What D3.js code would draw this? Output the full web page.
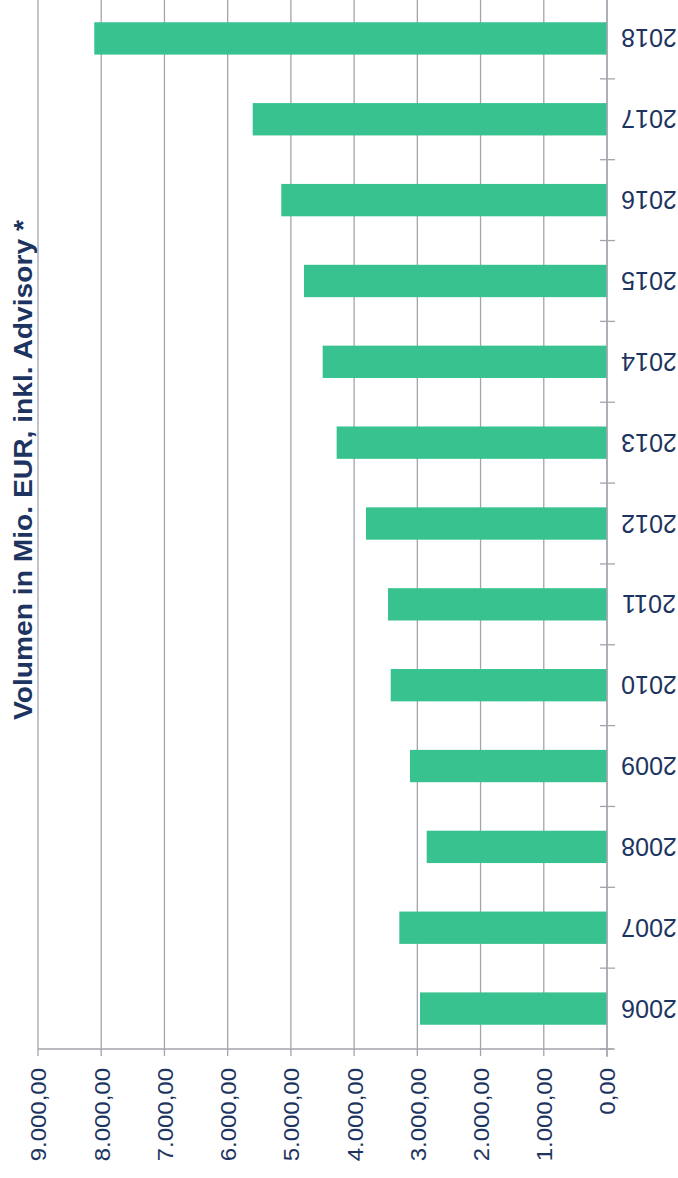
<!DOCTYPE html>
<html><head><meta charset="utf-8">
<script src="https://cdn.jsdelivr.net/npm/d3@7"></script>
<style>html,body{margin:0;padding:0;background:#fff;}svg{display:block;}</style>
</head><body>
<svg id="c" width="678" height="1178"></svg>
<script>
const years = ["2006","2007","2008","2009","2010","2011","2012","2013","2014","2015","2016","2017","2018"];
const volumes = [2958,3285,2852,3116,3421,3464,3812,4276,4497,4793,5152,5604,8110];
const valueTicks = [0,1000,2000,3000,4000,5000,6000,7000,8000,9000];
const axisTitle = "Volumen in Mio. EUR, inkl. Advisory *";

const svg = d3.select("#c");
const gridColor = "#a3a5ad";
const textColor = "#1d3461";
const barColor = "#38c290";

const x = d3.scaleLinear().domain([0,9000]).range([607,38]);
const y = d3.scaleBand().domain(years).range([1049,-2]).padding(0);
const loc = d3.formatLocale({decimal:",",thousands:".",grouping:[3],currency:["","€"]});
const fmt = loc.format(",.2f");

// grid lines + value ticks
const g = svg.append("g");
g.selectAll("line.grid").data(valueTicks).join("line")
  .attr("x1",d=>x(d)).attr("x2",d=>x(d))
  .attr("y1",0).attr("y2",1056)
  .attr("stroke",gridColor).attr("stroke-width",1.3);
// value axis line
g.append("line").attr("x1",x(9000)).attr("x2",613).attr("y1",1049).attr("y2",1049)
  .attr("stroke",gridColor).attr("stroke-width",1.3);

// bars
svg.append("g").selectAll("rect").data(years).join("rect")
  .attr("x",(d,i)=>x(volumes[i]))
  .attr("width",(d,i)=>x(0)-x(volumes[i]))
  .attr("y",d=>y(d)+y.bandwidth()*0.3)
  .attr("height",y.bandwidth()*0.4)
  .attr("fill",barColor);

// category axis line
svg.append("line").attr("x1",607).attr("x2",607).attr("y1",0).attr("y2",1057)
  .attr("stroke",gridColor).attr("stroke-width",1.3);
// category boundary ticks
const bounds = years.map(d=>y(d)+y.bandwidth());
svg.append("g").selectAll("line").data(bounds).join("line")
  .attr("x1",600).attr("x2",615).attr("y1",d=>d).attr("y2",d=>d)
  .attr("stroke",gridColor).attr("stroke-width",1.3);

// year labels (rotated 180)
svg.append("g").selectAll("text").data(years).join("text")
  .attr("transform",d=>`translate(649,${y(d)+y.bandwidth()/2}) rotate(180)`)
  .attr("text-anchor","middle").attr("dy","0.36em")
  .attr("font-family","Liberation Sans, Arial, sans-serif")
  .attr("font-size",25).attr("fill",textColor)
  .text(d=>d);

// value tick labels (rotated -90)
svg.append("g").selectAll("text").data(valueTicks).join("text")
  .attr("transform",d=>`translate(${x(d)+0.5},1068) rotate(-90)`)
  .attr("text-anchor","end").attr("dy","0.36em")
  .attr("font-family","Liberation Sans, Arial, sans-serif")
  .attr("font-size",22).attr("fill",textColor)
  .each(function(d){
    const t = d3.select(this).text(fmt(d));
    const len = this.getComputedTextLength();
    t.attr("textLength",len*1.09).attr("lengthAdjust","spacingAndGlyphs");
  });

// axis title
svg.append("text")
  .attr("transform","translate(23,470) rotate(-90)")
  .attr("text-anchor","middle").attr("dy","0.36em")
  .attr("font-family","Liberation Sans, Arial, sans-serif")
  .attr("font-weight","bold").attr("font-size",26).attr("fill",textColor)
  .each(function(){
    const t = d3.select(this).text(axisTitle);
    t.attr("textLength",500).attr("lengthAdjust","spacingAndGlyphs");
  });
</script>
</body></html>
